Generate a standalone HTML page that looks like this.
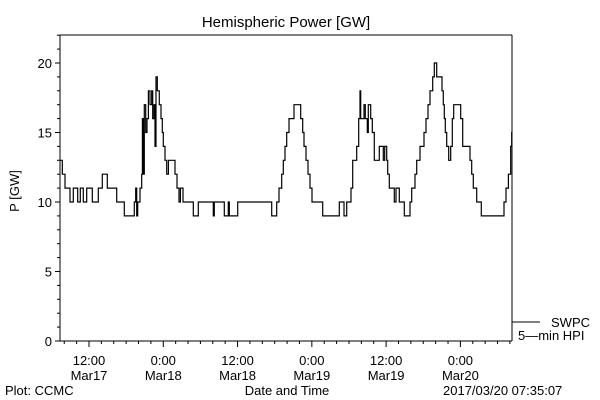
<!DOCTYPE html>
<html><head><meta charset="utf-8"><style>
html,body{margin:0;padding:0;background:#fff;}
svg{display:block;font-family:"Liberation Sans",sans-serif;}
text{fill:#000;font-size:13px;}
</style></head><body>
<svg id="chart" width="600" height="400" viewBox="0 0 600 400" xmlns="http://www.w3.org/2000/svg">
<rect width="600" height="400" fill="#fff"/>
<text x="286" y="27" text-anchor="middle" font-size="15" style="font-size:15px">Hemispheric Power [GW]</text>
<text transform="translate(19,191) rotate(-90)" text-anchor="middle">P [GW]</text>
<g id="axes"></g>
<path id="series" fill="none" stroke="#000" stroke-width="1.2"/>
<line x1="512" y1="322" x2="540" y2="322" stroke="#000"/>
<text x="551" y="327">SWPC</text>
<text x="518" y="340">5—min HPI</text>
<text x="287" y="395" text-anchor="middle">Date and Time</text>
<text x="5" y="395">Plot: CCMC</text>
<text x="443" y="395">2017/03/20 07:35:07</text>
</svg>
<script>
// hours since 2017-03-17 00:00
const times=[7.32,7.69,8.12,8.93,9.46,10.17,10.60,11.08,11.63,12.53,13.50,14.15,14.96,16.47,17.70,19.32,19.54,19.70,19.86,20.24,20.51,20.62,20.78,20.94,21.16,21.37,21.59,21.85,22.13,22.29,22.50,22.66,22.82,23.04,23.36,23.63,23.84,24.00,24.28,24.55,24.82,25.89,26.22,26.54,26.76,27.19,28.85,29.66,32.08,32.24,33.86,34.50,34.66,36.02,41.51,42.32,42.69,43.13,43.39,43.66,43.94,44.31,45.12,46.20,46.52,46.73,47.06,47.38,47.70,48.03,49.75,52.44,53.20,53.63,54.33,54.60,55.24,55.57,55.78,55.89,56.43,56.64,56.96,57.12,57.51,57.77,58.09,58.90,59.54,59.77,60.09,60.25,60.52,61.32,61.60,62.13,62.94,63.86,64.13,64.67,64.94,65.47,66.12,66.44,66.77,67.09,67.52,67.79,68.17,69.03,69.24,69.40,69.56,69.79,70.11,70.43,70.69,70.92,72.05,72.37,73.55,73.82,74.09,74.63,75.38,79.04,79.37,79.75,80.13,80.29];
const powers=[13,12,11,10,11,10,11,10,11,10,11,12,11,10,9,10,11,9,10,11,12,16,12,17,15,16,18,17,18,16,17,14,19,18,17,16,15,14,13,12,13,12,11,10,11,10,9,10,9,10,9,10,9,10,9,10,11,12,13,14,15,16,17,16,15,14,13,12,11,10,9,10,9,10,11,13,14,16,18,16,17,16,15,17,16,15,13,14,13,14,13,12,11,10,11,10,9,10,11,12,13,14,15,16,17,18,19,20,19,18,17,16,15,14,13,14,16,17,16,14,13,12,11,10,9,10,11,12,14,15];
const yTicks=[0,5,10,15,20];
const xTickHours=[12,24,36,48,60,72];
const xTickTimes=["12:00","0:00","12:00","0:00","12:00","0:00"];
const xTickDates=["Mar17","Mar18","Mar18","Mar19","Mar19","Mar20"];
const endHour=80.34;

const L=60,R=512,T=35,B=341;
const xs=h=>89+(h-12)*6.19;
const ys=v=>B-v*13.9;
const NS="http://www.w3.org/2000/svg";
const ax=document.getElementById('axes');
function ln(x1,y1,x2,y2,name){const l=document.createElementNS(NS,'line');
l.setAttribute('x1',x1);l.setAttribute('y1',y1);l.setAttribute('x2',x2);l.setAttribute('y2',y2);l.setAttribute('stroke','#000');


ax.appendChild(l);return l;}
function tx(x,y,s,anchor,name){const t=document.createElementNS(NS,'text');
t.setAttribute('x',x);t.setAttribute('y',y);t.setAttribute('text-anchor',anchor);t.textContent=s;


ax.appendChild(t);}
ln(L,T,R,T,'plot-frame-top');ln(L,B,R,B,'plot-frame-bottom');ln(L,T,L,B,'y-axis-line');ln(R,T,R,B,'plot-frame-right');
for(let v=0;v<=22;v++){const y=ys(v);ln(L-(v%5===0?5:3),y,L,y,'y-tick');}
yTicks.forEach(v=>tx(L-8,ys(v)+5,String(v),'end','y-tick-label'));
for(let h=8;h<=endHour;h+=2){const x=xs(h);ln(x,B,x,B+(h%12===0?6:3),'x-tick');}
xTickHours.forEach((h,i)=>{tx(xs(h),B+24,xTickTimes[i],'middle','x-tick-time-label');tx(xs(h),B+39,xTickDates[i],'middle','x-tick-date-label');});
let d='M'+xs(times[0]).toFixed(1)+','+ys(powers[0]).toFixed(1);
for(let i=1;i<times.length;i++){d+=' H'+xs(times[i]).toFixed(1)+' V'+ys(powers[i]).toFixed(1);}
d+=' H'+xs(endHour).toFixed(1);
document.getElementById('series').setAttribute('d',d);
</script>
</body></html>
